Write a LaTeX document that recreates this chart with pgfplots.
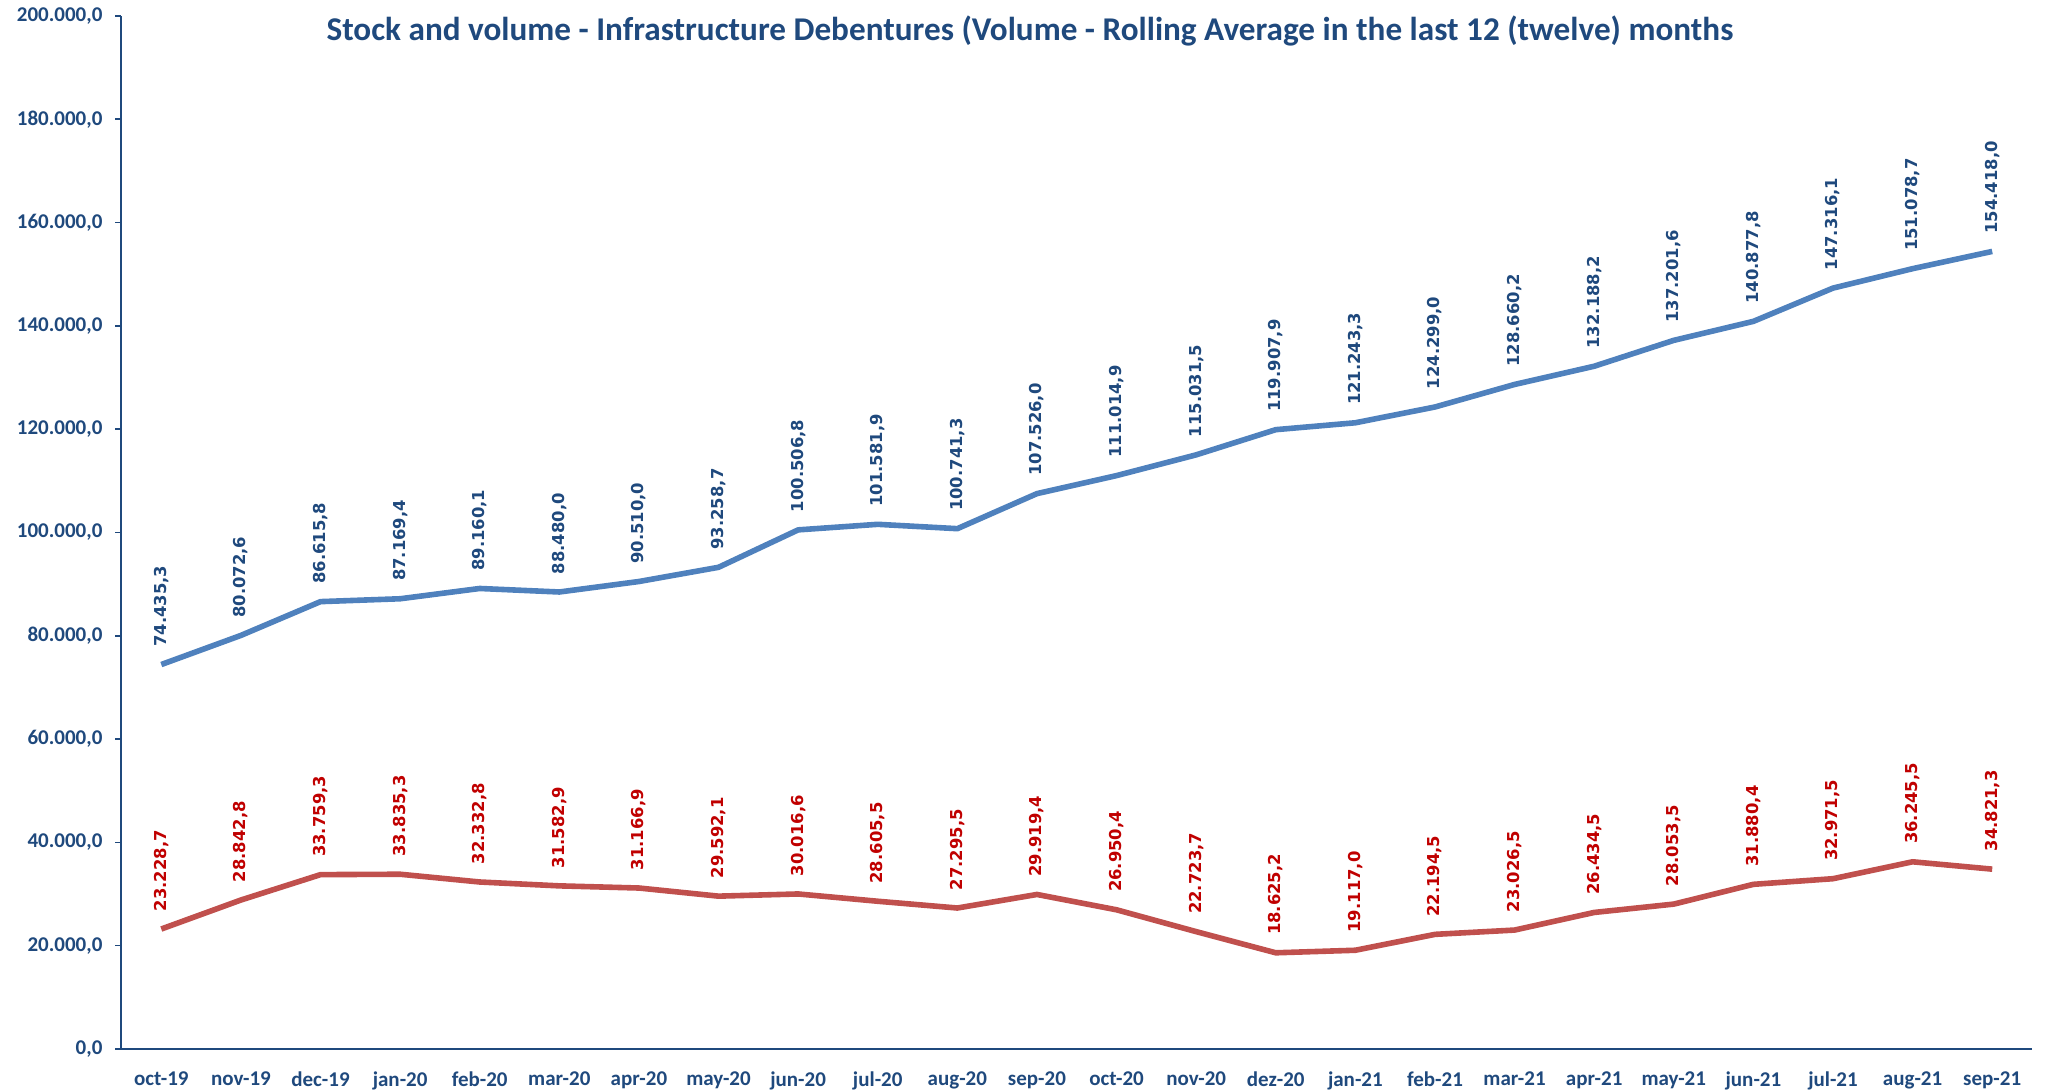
\documentclass[border=0pt]{standalone}
\usepackage{pgfplots}
\pgfplotsset{compat=1.18}
\usepackage{fontspec}
\setmainfont{Carlito}
\newfontfamily\lblfont{DejaVu Sans}
\definecolor{dkblue}{HTML}{1F497D}
\definecolor{lblue}{HTML}{4F81BD}
\definecolor{lred}{HTML}{C0504D}
\definecolor{dred}{HTML}{C00000}
\pgfplotstableread{
x stock volume
0 74435.3 23228.7
1 80072.6 28842.8
2 86615.8 33759.3
3 87169.4 33835.3
4 89160.1 32332.8
5 88480.0 31582.9
6 90510.0 31166.9
7 93258.7 29592.1
8 100506.8 30016.6
9 101581.9 28605.5
10 100741.3 27295.5
11 107526.0 29919.4
12 111014.9 26950.4
13 115031.5 22723.7
14 119907.9 18625.2
15 121243.3 19117.0
16 124299.0 22194.5
17 128660.2 23026.5
18 132188.2 26434.5
19 137201.6 28053.5
20 140877.8 31880.4
21 147316.1 32971.5
22 151078.7 36245.5
23 154418.0 34821.3
}\datatable
\begin{document}
\begin{tikzpicture}
\begin{axis}[name=ax, scale only axis, width=955.25pt, height=516.5pt,
  xmin=-0.5, xmax=23.5, ymin=0, ymax=200000,
  axis lines*=left,
  axis line style={dkblue, line width=1pt},
  clip=false,
  xtick={0,...,23},
  xticklabels={oct-19,nov-19,dec-19,jan-20,feb-20,mar-20,apr-20,may-20,jun-20,jul-20,aug-20,sep-20,oct-20,nov-20,dez-20,jan-21,feb-21,mar-21,apr-21,may-21,jun-21,jul-21,aug-21,sep-21},
  ytick={0,20000,...,200000},
  scaled y ticks=false,
  tick align=outside,
  major tick length=3pt,
  xtick style={draw=none},
  ytick style={dkblue, line width=0.8pt},
  ticklabel style={font=\bfseries\fontsize{10.5}{12}\selectfont, text=dkblue},
  xticklabel style={yshift=-5pt},
  yticklabel style={xshift=-3pt},
  /pgf/number format/.cd, fixed, fixed zerofill, precision=1, use comma, 1000 sep={.}, assume math mode=true,
]
\addplot[lblue, line width=2.8pt, line join=round,
  nodes near coords, nodes near coords align=horizontal,
  every node near coord/.append style={rotate=90, anchor=west, inner sep=0pt, inner xsep=7.5pt, font=\lblfont\bfseries\fontsize{8.2}{9}\selectfont, text=dkblue}]
  table[x=x, y=stock] {\datatable};
\addplot[lred, line width=2.8pt, line join=round,
  nodes near coords, nodes near coords align=horizontal,
  every node near coord/.append style={rotate=90, anchor=west, inner sep=0pt, inner xsep=7.5pt, font=\lblfont\bfseries\fontsize{8.2}{9}\selectfont, text=dred}]
  table[x=x, y=volume] {\datatable};
\node[font=\bfseries\fontsize{16.6}{19}\selectfont, text=dkblue] at (rel axis cs:0.4755,0.985) {Stock and volume - Infrastructure Debentures (Volume - Rolling Average in the last 12 (twelve) months};
\end{axis}
\pgfresetboundingbox
\path (ax.south west) ++(-60.75pt,-21pt) rectangle ++(1024.5pt,545.5pt);
\end{tikzpicture}
\end{document}
